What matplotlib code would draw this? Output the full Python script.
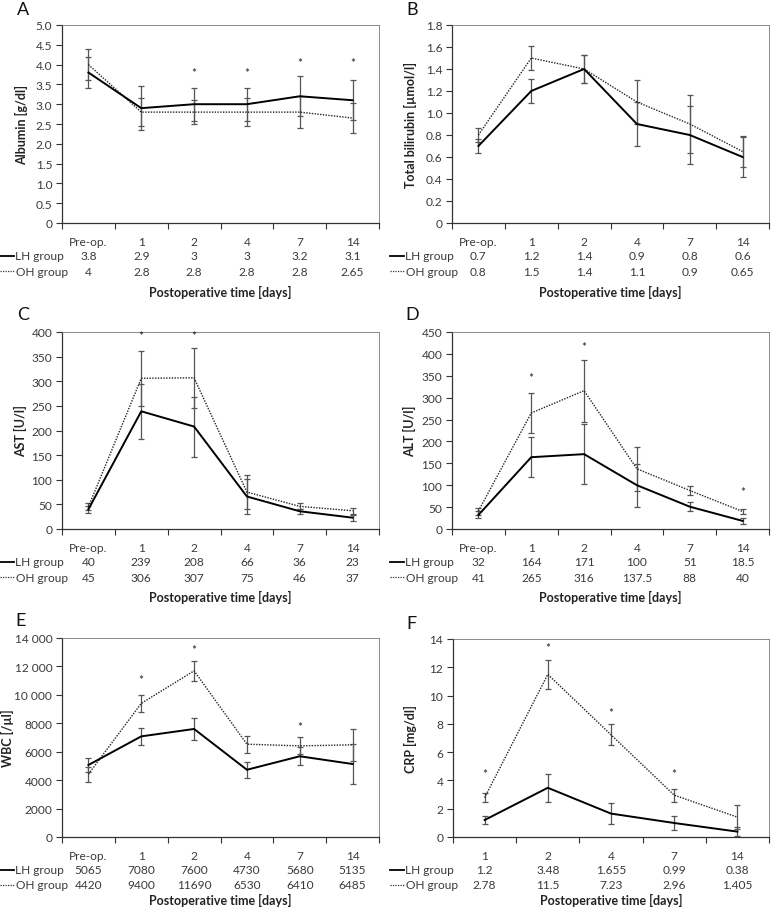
import matplotlib
matplotlib.use("Agg")
import matplotlib.pyplot as plt
from matplotlib.lines import Line2D

plt.rcParams['font.family'] = ['Lato', 'DejaVu Sans']

W, H = 771, 912

cats6 = ["Pre-op.", "1", "2", "4", "7", "14"]
cats5 = ["1", "2", "4", "7", "14"]

# A: Albumin
alb_lh = [3.8, 2.9, 3, 3, 3.2, 3.1]
alb_oh = [4, 2.8, 2.8, 2.8, 2.8, 2.65]
alb_lh_err = [0.4, 0.55, 0.42, 0.42, 0.5, 0.5]
alb_oh_err = [0.4, 0.35, 0.3, 0.35, 0.4, 0.38]
alb_lh_txt = ["3.8", "2.9", "3", "3", "3.2", "3.1"]
alb_oh_txt = ["4", "2.8", "2.8", "2.8", "2.8", "2.65"]
alb_star = [None, None, 3.8, 3.8, 4.05, 4.05]

# B: Total bilirubin
bil_lh = [0.7, 1.2, 1.4, 0.9, 0.8, 0.6]
bil_oh = [0.8, 1.5, 1.4, 1.1, 0.9, 0.65]
bil_lh_err = [0.06, 0.11, 0.13, 0.2, 0.26, 0.18]
bil_oh_err = [0.06, 0.11, 0.13, 0.2, 0.26, 0.14]
bil_lh_txt = ["0.7", "1.2", "1.4", "0.9", "0.8", "0.6"]
bil_oh_txt = ["0.8", "1.5", "1.4", "1.1", "0.9", "0.65"]
bil_star = [None] * 6

# C: AST
ast_lh = [40, 239, 208, 66, 36, 23]
ast_oh = [45, 306, 307, 75, 46, 37]
ast_lh_err = [7, 56, 61, 36, 5, 6]
ast_oh_err = [7, 56, 61, 35, 6, 6]
ast_lh_txt = ["40", "239", "208", "66", "36", "23"]
ast_oh_txt = ["45", "306", "307", "75", "46", "37"]
ast_star = [None, 393, 393, None, None, None]

# D: ALT
alt_lh = [32, 164, 171, 100, 51, 18.5]
alt_oh = [41, 265, 316, 137.5, 88, 40]
alt_lh_err = [8, 46, 69, 49, 11, 6]
alt_oh_err = [8, 46, 71, 50, 11, 5]
alt_lh_txt = ["32", "164", "171", "100", "51", "18.5"]
alt_oh_txt = ["41", "265", "316", "137.5", "88", "40"]
alt_star = [None, 346, 418, None, None, 86]

# E: WBC
wbc_lh = [5065, 7080, 7600, 4730, 5680, 5135]
wbc_oh = [4420, 9400, 11690, 6530, 6410, 6485]
wbc_lh_err = [500, 620, 750, 580, 620, 1435]
wbc_oh_err = [530, 600, 700, 600, 600, 1115]
wbc_lh_txt = ["5065", "7080", "7600", "4730", "5680", "5135"]
wbc_oh_txt = ["4420", "9400", "11690", "6530", "6410", "6485"]
wbc_star = [None, 11100, 13200, None, 7800, None]
wbc_ticklabels = ["0", "2000", "4000", "6000", "8000", "10 000", "12 000", "14 000"]

# F: CRP
crp_lh = [1.2, 3.48, 1.655, 0.99, 0.38]
crp_oh = [2.78, 11.5, 7.23, 2.96, 1.405]
crp_lh_err = [0.3, 1.0, 0.75, 0.5, 0.3]
crp_oh_err = [0.3, 1.0, 0.75, 0.45, 0.85]
crp_lh_txt = ["1.2", "3.48", "1.655", "0.99", "0.38"]
crp_oh_txt = ["2.78", "11.5", "7.23", "2.96", "1.405"]
crp_star = [4.5, 13.4, 8.8, 4.5, None]

panels = [
    dict(letter="A", box=(62, 379, 26, 224), cats=cats6, lh=alb_lh, oh=alb_oh,
         lhe=alb_lh_err, ohe=alb_oh_err, lht=alb_lh_txt, oht=alb_oh_txt, star=alb_star,
         ylim=(0, 5), yt=[i * 0.5 for i in range(11)],
         ytl=["0"] + ["%.1f" % (i * 0.5) for i in range(1, 11)], ylabel="Albumin [g/dl]",
         legx=0, xl=68, ylx=28, letx=17, lety=10, ylfs=9),
    dict(letter="B", box=(452, 769, 26, 224), cats=cats6, lh=bil_lh, oh=bil_oh,
         lhe=bil_lh_err, ohe=bil_oh_err, lht=bil_lh_txt, oht=bil_oh_txt, star=bil_star,
         ylim=(0, 1.8), yt=[i * 0.2 for i in range(10)],
         ytl=["0"] + ["%.1f" % (i * 0.2) for i in range(1, 10)], ylabel="Total bilirubin [µmol/l]",
         legx=390, xl=68, ylx=417, letx=406, lety=10, ylfs=9),
    dict(letter="C", box=(62, 379, 333, 530), cats=cats6, lh=ast_lh, oh=ast_oh,
         lhe=ast_lh_err, ohe=ast_oh_err, lht=ast_lh_txt, oht=ast_oh_txt, star=ast_star,
         ylim=(0, 400), yt=list(range(0, 401, 50)),
         ytl=[str(v) for v in range(0, 401, 50)], ylabel="AST [U/l]",
         legx=0, xl=67, ylx=27, letx=17, lety=315, ylfs=9),
    dict(letter="D", box=(452, 769, 333, 530), cats=cats6, lh=alt_lh, oh=alt_oh,
         lhe=alt_lh_err, ohe=alt_oh_err, lht=alt_lh_txt, oht=alt_oh_txt, star=alt_star,
         ylim=(0, 450), yt=list(range(0, 451, 50)),
         ytl=[str(v) for v in range(0, 451, 50)], ylabel="ALT [U/l]",
         legx=390, xl=67, ylx=416, letx=405, lety=315, ylfs=9),
    dict(letter="E", box=(62, 379, 639, 838), cats=cats6, lh=wbc_lh, oh=wbc_oh,
         lhe=wbc_lh_err, ohe=wbc_oh_err, lht=wbc_lh_txt, oht=wbc_oh_txt, star=wbc_star,
         ylim=(0, 14000), yt=list(range(0, 14001, 2000)),
         ytl=wbc_ticklabels, ylabel="WBC [/µl]",
         legx=0, xl=62, ylx=14, letx=15, lety=621, ylfs=9),
    dict(letter="F", box=(453, 769, 640, 838), cats=cats5, lh=crp_lh, oh=crp_oh,
         lhe=crp_lh_err, ohe=crp_oh_err, lht=crp_lh_txt, oht=crp_oh_txt, star=crp_star,
         ylim=(0, 14), yt=list(range(0, 15, 2)),
         ytl=[str(v) for v in range(0, 15, 2)], ylabel="CRP [mg/dl]",
         legx=390, xl=62, ylx=417, letx=406, lety=624, ylfs=9),
]

fig = plt.figure(figsize=(W / 100, H / 100), dpi=100)
fig.patch.set_facecolor("white")

TXT = "#3a3a3a"
FS = 8.6

def fx(x):
    return x / W

def fy(y):
    return 1 - y / H

for p in panels:
    l, r, t, b = p["box"]
    ax = fig.add_axes([fx(l), fy(b), fx(r) - fx(l), fy(t) - fy(b)])
    n = len(p["cats"])
    xs = [i + 0.5 for i in range(n)]
    ax.errorbar(xs, p["oh"], yerr=p["ohe"], fmt="none", ecolor="#555555", elinewidth=0.9,
                capsize=2, capthick=0.9, zorder=2)
    ax.errorbar(xs, p["lh"], yerr=p["lhe"], fmt="none", ecolor="#555555", elinewidth=0.9,
                capsize=2, capthick=0.9, zorder=2)
    ax.plot(xs, p["oh"], color="#222222", lw=1.0, linestyle=(0, (1, 1)), zorder=3)
    ax.plot(xs, p["lh"], color="black", lw=1.4, zorder=4)
    for x, s in zip(xs, p["star"]):
        if s is not None:
            ax.text(x, s, "*", ha="center", va="center", fontsize=8.5, color="#222222")
    ax.set_xlim(0, n)
    ax.set_ylim(*p["ylim"])
    ax.set_xticks(range(n + 1))
    ax.set_xticklabels([])
    ax.set_yticks(p["yt"])
    ax.set_yticklabels(p["ytl"], fontsize=FS, color=TXT)
    ax.tick_params(axis="both", direction="out", length=4, width=0.8, color="#333333", pad=3)
    for side in ("left", "bottom"):
        ax.spines[side].set_color("#333333")
        ax.spines[side].set_linewidth(0.9)
    for side in ("top", "right"):
        ax.spines[side].set_color("#777777")
        ax.spines[side].set_linewidth(0.6)
    ax.set_ylabel(p["ylabel"], fontsize=p["ylfs"], fontweight="bold", color="#222222")
    ax.yaxis.set_label_coords((p["ylx"] - l) / (r - l), 0.5)

    # table under the axis
    def xpix(i):
        return l + (r - l) * (i + 0.5) / n
    for i in range(n):
        fig.text(fx(xpix(i)), fy(b + 19), p["cats"][i], ha="center", va="center",
                 fontsize=FS, color=TXT)
        fig.text(fx(xpix(i)), fy(b + 33), p["lht"][i], ha="center", va="center",
                 fontsize=FS, color=TXT)
        fig.text(fx(xpix(i)), fy(b + 48), p["oht"][i], ha="center", va="center",
                 fontsize=FS, color=TXT)
    lx = p["legx"]
    fig.add_artist(Line2D([fx(lx), fx(lx + 14)], [fy(b + 33), fy(b + 33)], color="black", lw=1.3))
    fig.add_artist(Line2D([fx(lx), fx(lx + 15)], [fy(b + 48), fy(b + 48)], color="#333333", lw=0.9,
                          linestyle=(0, (1, 1))))
    fig.text(fx(lx + 15), fy(b + 33), "LH group", ha="left", va="center", fontsize=FS, color=TXT)
    fig.text(fx(lx + 16), fy(b + 48), "OH group", ha="left", va="center", fontsize=FS, color=TXT)
    fig.text(fx((l + r) / 2), fy(b + p["xl"]), "Postoperative time [days]", ha="center", va="center",
             fontsize=9, fontweight="bold", color="#222222")
    fig.text(fx(p["letx"]), fy(p["lety"]), p["letter"], ha="left", va="center",
             fontsize=13, color="#111111")

fig.savefig("out.png", dpi=100, facecolor="white")
